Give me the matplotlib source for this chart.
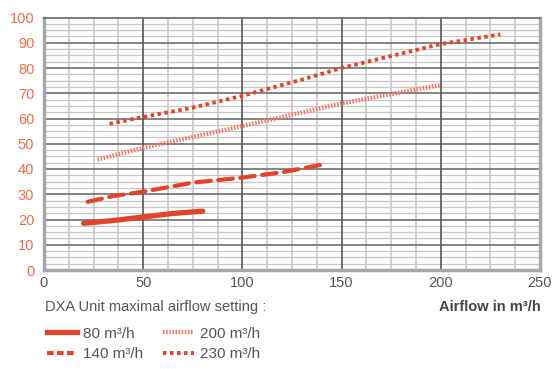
import matplotlib
matplotlib.use("Agg")
import matplotlib.pyplot as plt
import numpy as np
from matplotlib.lines import Line2D

plt.rcParams['font.family'] = ['Liberation Sans Narrow', 'Liberation Sans', 'DejaVu Sans']

# data
x80 = [20, 35, 50, 65, 80]
y80 = [18.5, 19.6, 21.0, 22.4, 23.3]
x140 = [22, 35, 50, 75, 100, 120, 142]
y140 = [27.0, 29.3, 31.0, 34.6, 36.6, 38.7, 42.0]
x200 = [27, 50, 100, 150, 200]
y200 = [43.7, 48.4, 57.0, 66.0, 73.3]
x230 = [33, 50, 75, 100, 130, 150, 200, 230]
y230 = [57.9, 60.6, 64.3, 69.0, 75.4, 80.0, 89.5, 93.3]

series_labels = ["80 m³/h", "140 m³/h", "200 m³/h", "230 m³/h"]
xticks = [0, 50, 100, 150, 200, 250]
yticks = list(range(0, 101, 10))

red = '#e4432a'
light_red = '#f07a66'

fig = plt.figure(figsize=(5.58, 3.69), dpi=100)
ax = fig.add_axes([44/558, 1 - 270/369, 496/558, 252.5/369])
ax.set_xlim(0, 250)
ax.set_ylim(0, 100)

# grid
for v in np.arange(2.5, 100, 2.5):
    if v % 10:
        ax.axhline(v, color='#c6c6c6', lw=0.9, zorder=0)
for v in np.arange(12.5, 250, 12.5):
    if v % 50:
        ax.axvline(v, color='#c8c8c8', lw=1.2, zorder=0)
for v in range(10, 100, 10):
    ax.axhline(v, color='#6e6e6e', lw=1.2, zorder=1)
for v in range(50, 250, 50):
    ax.axvline(v, color='#555555', lw=1.2, zorder=1)

ax.plot(x80, y80, color=red, lw=3.8, solid_capstyle='round', zorder=3)
ax.plot(x140, y140, color=red, lw=3.0, linestyle=(0, (3.5, 1.8)), dash_capstyle='round', zorder=3)
ax.plot(x200, y200, color=light_red, lw=3.2, linestyle=(0, (0.35, 0.35)), dash_capstyle='butt', zorder=3)
ax.plot(x230, y230, color=red, lw=2.8, linestyle=(0, (0.9, 0.9)), dash_capstyle='butt', zorder=3)

ax.set_xticks(xticks)
ax.set_yticks(yticks)
ax.tick_params(axis='x', colors='#555555', labelsize=10.5, length=0, pad=4)
ax.tick_params(axis='y', colors='#ee6a4e', labelsize=10.5, length=0, pad=7)
for lab in ax.get_xticklabels():
    lab.set_color('#555555')

for side in ['left', 'bottom', 'right']:
    ax.spines[side].set_color('#a6a6a6')
    ax.spines[side].set_linewidth(2.5)
ax.spines['top'].set_color('#666666')
ax.spines['top'].set_linewidth(1.2)

fig.text(45/558, 1 - 307/369, "DXA Unit maximal airflow setting :", fontsize=10.5,
         color='#555555', va='center', ha='left')
fig.text(541/558, 1 - 307/369, "Airflow in m³/h", fontsize=10.5, color='#444444',
         fontweight='bold', va='center', ha='right')

handles = [
    Line2D([], [], color=red, lw=3.8),
    Line2D([], [], color=red, lw=3.0, linestyle=(0, (1.6, 0.8))),
    Line2D([], [], color=light_red, lw=3.2, linestyle=(0, (0.35, 0.35))),
    Line2D([], [], color=red, lw=2.8, linestyle=(0, (0.9, 0.9))),
]
fig.legend(handles, series_labels, loc='upper left', bbox_to_anchor=(33/558, 1 - 313/369),
           ncol=2, frameon=False, fontsize=11, handlelength=2.0, handletextpad=0.4,
           columnspacing=1.3, labelspacing=0.4, labelcolor='#555555')

fig.savefig("out.png", dpi=100)
